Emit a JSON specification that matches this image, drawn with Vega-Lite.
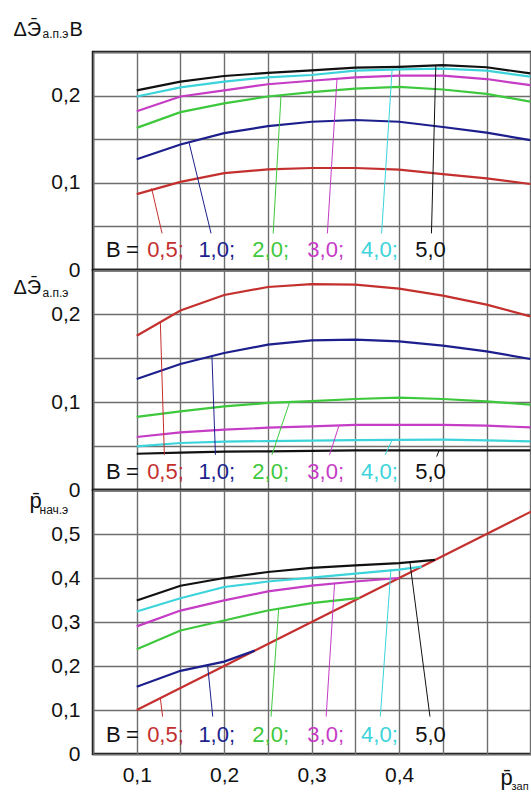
{
  "$schema": "https://vega.github.io/schema/vega-lite/v6.json",
  "autosize": {"type": "none"},
  "padding": {"left": 93, "top": 52, "right": 438, "bottom": 740},
  "background": "white",
  "config": {
    "view": {"stroke": "#111111", "strokeWidth": 2.5},
    "axis": {
      "labelFont": "Liberation Sans, Arial, sans-serif",
      "titleFont": "Liberation Sans, Arial, sans-serif",
      "labelColor": "#111111", "titleColor": "#111111",
      "gridColor": "#6e6e6e", "gridWidth": 1.4,
      "ticks": false, "domain": false,
      "labelFontSize": 21, "titleFontWeight": "normal",
      "labelOverlap": false, "labelBound": false, "labelFlush": false
    },
    "text": {"font": "Liberation Sans, Arial, sans-serif"}
  },
  "datasets": {
    "p1": [
      {"s":"0,5","x":0.1,"y":0.087},{"s":"0,5","x":0.15,"y":0.101},{"s":"0,5","x":0.2,"y":0.111},{"s":"0,5","x":0.25,"y":0.1155},{"s":"0,5","x":0.3,"y":0.117},{"s":"0,5","x":0.35,"y":0.117},{"s":"0,5","x":0.4,"y":0.115},{"s":"0,5","x":0.45,"y":0.110},{"s":"0,5","x":0.5,"y":0.105},{"s":"0,5","x":0.55,"y":0.0986},
      {"s":"1,0","x":0.1,"y":0.127},{"s":"1,0","x":0.15,"y":0.144},{"s":"1,0","x":0.2,"y":0.157},{"s":"1,0","x":0.25,"y":0.165},{"s":"1,0","x":0.3,"y":0.170},{"s":"1,0","x":0.35,"y":0.172},{"s":"1,0","x":0.4,"y":0.170},{"s":"1,0","x":0.45,"y":0.164},{"s":"1,0","x":0.5,"y":0.1575},{"s":"1,0","x":0.55,"y":0.149},
      {"s":"2,0","x":0.1,"y":0.163},{"s":"2,0","x":0.15,"y":0.181},{"s":"2,0","x":0.2,"y":0.191},{"s":"2,0","x":0.25,"y":0.199},{"s":"2,0","x":0.3,"y":0.204},{"s":"2,0","x":0.35,"y":0.208},{"s":"2,0","x":0.4,"y":0.210},{"s":"2,0","x":0.45,"y":0.207},{"s":"2,0","x":0.5,"y":0.202},{"s":"2,0","x":0.55,"y":0.193},
      {"s":"3,0","x":0.1,"y":0.182},{"s":"3,0","x":0.15,"y":0.199},{"s":"3,0","x":0.2,"y":0.206},{"s":"3,0","x":0.25,"y":0.213},{"s":"3,0","x":0.3,"y":0.217},{"s":"3,0","x":0.35,"y":0.221},{"s":"3,0","x":0.4,"y":0.223},{"s":"3,0","x":0.45,"y":0.223},{"s":"3,0","x":0.5,"y":0.219},{"s":"3,0","x":0.55,"y":0.212},
      {"s":"4,0","x":0.1,"y":0.199},{"s":"4,0","x":0.15,"y":0.2095},{"s":"4,0","x":0.2,"y":0.216},{"s":"4,0","x":0.25,"y":0.221},{"s":"4,0","x":0.3,"y":0.2236},{"s":"4,0","x":0.35,"y":0.2286},{"s":"4,0","x":0.4,"y":0.230},{"s":"4,0","x":0.45,"y":0.231},{"s":"4,0","x":0.5,"y":0.2286},{"s":"4,0","x":0.55,"y":0.2217},
      {"s":"5,0","x":0.1,"y":0.206},{"s":"5,0","x":0.15,"y":0.216},{"s":"5,0","x":0.2,"y":0.2225},{"s":"5,0","x":0.25,"y":0.226},{"s":"5,0","x":0.3,"y":0.229},{"s":"5,0","x":0.35,"y":0.232},{"s":"5,0","x":0.4,"y":0.233},{"s":"5,0","x":0.45,"y":0.235},{"s":"5,0","x":0.5,"y":0.2325},{"s":"5,0","x":0.55,"y":0.2255}
    ],
    "p2": [
      {"s":"0,5","x":0.1,"y":0.1753},{"s":"0,5","x":0.15,"y":0.204},{"s":"0,5","x":0.2,"y":0.2216},{"s":"0,5","x":0.25,"y":0.2307},{"s":"0,5","x":0.3,"y":0.234},{"s":"0,5","x":0.35,"y":0.2333},{"s":"0,5","x":0.4,"y":0.2288},{"s":"0,5","x":0.45,"y":0.2208},{"s":"0,5","x":0.5,"y":0.2106},{"s":"0,5","x":0.55,"y":0.1973},
      {"s":"1,0","x":0.1,"y":0.1261},{"s":"1,0","x":0.15,"y":0.1432},{"s":"1,0","x":0.2,"y":0.1557},{"s":"1,0","x":0.25,"y":0.1651},{"s":"1,0","x":0.3,"y":0.170},{"s":"1,0","x":0.35,"y":0.1708},{"s":"1,0","x":0.4,"y":0.1689},{"s":"1,0","x":0.45,"y":0.164},{"s":"1,0","x":0.5,"y":0.1575},{"s":"1,0","x":0.55,"y":0.1489},
      {"s":"2,0","x":0.1,"y":0.083},{"s":"2,0","x":0.15,"y":0.0893},{"s":"2,0","x":0.2,"y":0.095},{"s":"2,0","x":0.25,"y":0.0989},{"s":"2,0","x":0.3,"y":0.1011},{"s":"2,0","x":0.35,"y":0.1034},{"s":"2,0","x":0.4,"y":0.1049},{"s":"2,0","x":0.45,"y":0.1034},{"s":"2,0","x":0.5,"y":0.1007},{"s":"2,0","x":0.55,"y":0.097},
      {"s":"3,0","x":0.1,"y":0.0602},{"s":"3,0","x":0.15,"y":0.0655},{"s":"3,0","x":0.2,"y":0.0685},{"s":"3,0","x":0.25,"y":0.0708},{"s":"3,0","x":0.3,"y":0.0723},{"s":"3,0","x":0.35,"y":0.0739},{"s":"3,0","x":0.4,"y":0.074},{"s":"3,0","x":0.45,"y":0.0739},{"s":"3,0","x":0.5,"y":0.0731},{"s":"3,0","x":0.55,"y":0.0712},
      {"s":"4,0","x":0.1,"y":0.0496},{"s":"4,0","x":0.15,"y":0.0534},{"s":"4,0","x":0.2,"y":0.055},{"s":"4,0","x":0.25,"y":0.0556},{"s":"4,0","x":0.3,"y":0.056},{"s":"4,0","x":0.35,"y":0.0566},{"s":"4,0","x":0.4,"y":0.057},{"s":"4,0","x":0.45,"y":0.0572},{"s":"4,0","x":0.5,"y":0.0565},{"s":"4,0","x":0.55,"y":0.0553},
      {"s":"5,0","x":0.1,"y":0.0412},{"s":"5,0","x":0.15,"y":0.0425},{"s":"5,0","x":0.2,"y":0.0435},{"s":"5,0","x":0.25,"y":0.044},{"s":"5,0","x":0.3,"y":0.0445},{"s":"5,0","x":0.35,"y":0.045},{"s":"5,0","x":0.4,"y":0.045},{"s":"5,0","x":0.45,"y":0.045},{"s":"5,0","x":0.5,"y":0.045},{"s":"5,0","x":0.55,"y":0.045}
    ],
    "p3": [
      {"s":"0,5","x":0.1,"y":0.1},{"s":"0,5","x":0.6,"y":0.6},
      {"s":"1,0","x":0.1,"y":0.153},{"s":"1,0","x":0.15,"y":0.189},{"s":"1,0","x":0.2,"y":0.21},{"s":"1,0","x":0.235,"y":0.235},
      {"s":"2,0","x":0.1,"y":0.238},{"s":"2,0","x":0.15,"y":0.2806},{"s":"2,0","x":0.2,"y":0.3034},{"s":"2,0","x":0.25,"y":0.3262},{"s":"2,0","x":0.3,"y":0.343},{"s":"2,0","x":0.355,"y":0.355},
      {"s":"3,0","x":0.1,"y":0.29},{"s":"3,0","x":0.15,"y":0.326},{"s":"3,0","x":0.2,"y":0.349},{"s":"3,0","x":0.25,"y":0.3695},{"s":"3,0","x":0.3,"y":0.3825},{"s":"3,0","x":0.35,"y":0.392},{"s":"3,0","x":0.4,"y":0.4},
      {"s":"4,0","x":0.1,"y":0.324},{"s":"4,0","x":0.15,"y":0.354},{"s":"4,0","x":0.2,"y":0.3795},{"s":"4,0","x":0.25,"y":0.392},{"s":"4,0","x":0.3,"y":0.401},{"s":"4,0","x":0.35,"y":0.41},{"s":"4,0","x":0.4,"y":0.419},{"s":"4,0","x":0.426,"y":0.426},
      {"s":"5,0","x":0.1,"y":0.349},{"s":"5,0","x":0.15,"y":0.3825},{"s":"5,0","x":0.2,"y":0.4},{"s":"5,0","x":0.25,"y":0.4137},{"s":"5,0","x":0.3,"y":0.4228},{"s":"5,0","x":0.35,"y":0.4288},{"s":"5,0","x":0.4,"y":0.434},{"s":"5,0","x":0.441,"y":0.441}
    ],
    "l1": [
      {"s":"0,5","x":0.117,"y":0.0937,"x2":0.129,"y2":0.042},
      {"s":"1,0","x":0.16,"y":0.1455,"x2":0.185,"y2":0.042},
      {"s":"2,0","x":0.265,"y":0.2005,"x2":0.256,"y2":0.042},
      {"s":"3,0","x":0.329,"y":0.219,"x2":0.318,"y2":0.042},
      {"s":"4,0","x":0.392,"y":0.2298,"x2":0.380,"y2":0.042},
      {"s":"5,0","x":0.442,"y":0.2347,"x2":0.437,"y2":0.042}
    ],
    "l2": [
      {"s":"0,5","x":0.127,"y":0.1908,"x2":0.1316,"y2":0.040},
      {"s":"1,0","x":0.186,"y":0.1522,"x2":0.19,"y2":0.040},
      {"s":"2,0","x":0.2748,"y":0.1,"x2":0.2546,"y2":0.040},
      {"s":"3,0","x":0.3313,"y":0.0733,"x2":0.3205,"y2":0.040},
      {"s":"4,0","x":0.392,"y":0.0568,"x2":0.384,"y2":0.040},
      {"s":"5,0","x":0.446,"y":0.0455,"x2":0.443,"y2":0.038}
    ],
    "l3": [
      {"s":"0,5","x":0.127,"y":0.127,"x2":0.1296,"y2":0.085},
      {"s":"1,0","x":0.181,"y":0.203,"x2":0.1869,"y2":0.085},
      {"s":"2,0","x":0.2623,"y":0.330,"x2":0.2536,"y2":0.085},
      {"s":"3,0","x":0.3262,"y":0.387,"x2":0.3166,"y2":0.085},
      {"s":"4,0","x":0.3907,"y":0.4205,"x2":0.3785,"y2":0.085},
      {"s":"5,0","x":0.4124,"y":0.4356,"x2":0.4353,"y2":0.085}
    ],
    "t1": [
      {"t":"B","s":"B","x":0.065,"y":0.0146},{"t":"=","s":"B","x":0.0878,"y":0.0146},
      {"t":"0,5;","s":"0,5","x":0.1119,"y":0.0146},{"t":"1,0;","s":"1,0","x":0.1705,"y":0.0146},
      {"t":"2,0;","s":"2,0","x":0.2322,"y":0.0146},{"t":"3,0;","s":"3,0","x":0.2951,"y":0.0146},
      {"t":"4,0;","s":"4,0","x":0.3565,"y":0.0146},{"t":"5,0","s":"5,0","x":0.4185,"y":0.0146}
    ],
    "t2": [
      {"t":"B","s":"B","x":0.065,"y":0.0125},{"t":"=","s":"B","x":0.0878,"y":0.0125},
      {"t":"0,5;","s":"0,5","x":0.1119,"y":0.0125},{"t":"1,0;","s":"1,0","x":0.1705,"y":0.0125},
      {"t":"2,0;","s":"2,0","x":0.2322,"y":0.0125},{"t":"3,0;","s":"3,0","x":0.2951,"y":0.0125},
      {"t":"4,0;","s":"4,0","x":0.3565,"y":0.0125},{"t":"5,0","s":"5,0","x":0.4185,"y":0.0125}
    ],
    "t3": [
      {"t":"B","s":"B","x":0.065,"y":0.028},{"t":"=","s":"B","x":0.0878,"y":0.028},
      {"t":"0,5;","s":"0,5","x":0.1119,"y":0.028},{"t":"1,0;","s":"1,0","x":0.1705,"y":0.028},
      {"t":"2,0;","s":"2,0","x":0.2322,"y":0.028},{"t":"3,0;","s":"3,0","x":0.2951,"y":0.028},
      {"t":"4,0;","s":"4,0","x":0.3565,"y":0.028},{"t":"5,0","s":"5,0","x":0.4185,"y":0.028}
    ]
  },
  "vconcat": [
    {
      "width": 481, "height": 218,
      "resolve": {"axis": {"x": "independent", "y": "independent"}},
      "layer": [
        {
          "mark": {"type": "rect", "color": "white"},
          "encoding": {
            "x": {"datum": 0.05, "type": "quantitative", "scale": {"domain": [0.05, 0.6], "nice": false, "zero": false},
                  "axis": {"orient": "top", "values": [0.05,0.1,0.15,0.2,0.25,0.3,0.35,0.4,0.45,0.5,0.55,0.6], "grid": true, "labels": false,
                           "title": "а.п.э", "titleX": -51, "titleY": -14.5, "titleAlign": "left", "titleBaseline": "alphabetic", "titleAngle": 0, "titleFontSize": 12}},
            "x2": {"datum": 0.6},
            "y": {"datum": 0.008, "type": "quantitative", "scale": {"domain": [0, 0.25], "nice": false, "zero": false},
                  "axis": {"values": [0,0.05,0.1,0.15,0.2,0.25], "grid": true, "labelPadding": 13, "labelBaseline": "middle",
                           "labelExpr": "datum.value == 0 ? '0' : ((datum.value == 0.1 || datum.value == 0.2) ? replace(format(datum.value, '.1f'), '.', ',') + '\u2004' : '')",
                           "title": "\u0394\u042d\u0304", "titleX": -80, "titleY": -17, "titleAlign": "left", "titleBaseline": "alphabetic", "titleAngle": 0, "titleFontSize": 20}},
            "y2": {"datum": 0.042}
          }
        },
        {
          "data": {"name": "p1"},
          "mark": {"type": "line", "strokeWidth": 2.2},
          "encoding": {
            "x": {"field": "x", "type": "quantitative", "axis": null},
            "y": {"field": "y", "type": "quantitative", "axis": null},
            "color": {"field": "s", "type": "nominal", "legend": null,
                      "scale": {"domain": ["0,5","1,0","2,0","3,0","4,0","5,0","B"], "range": ["#c3302e","#1c1f8c","#3ec83e","#c53cc5","#3cd4da","#111111","#111111"]}}
          }
        },
        {
          "data": {"name": "l1"},
          "mark": {"type": "rule", "strokeWidth": 1},
          "encoding": {
            "x": {"field": "x", "type": "quantitative", "axis": null},
            "x2": {"field": "x2"},
            "y": {"field": "y", "type": "quantitative",
                  "axis": {"orient": "right", "grid": false, "labels": false, "title": "B", "titleX": -505, "titleY": -17, "titleAlign": "left", "titleBaseline": "alphabetic", "titleAngle": 0, "titleFontSize": 20}},
            "y2": {"field": "y2"},
            "color": {"field": "s", "type": "nominal", "legend": null}
          }
        },
        {
          "data": {"name": "t1"},
          "mark": {"type": "text", "align": "left", "baseline": "alphabetic", "fontSize": 22},
          "encoding": {
            "x": {"field": "x", "type": "quantitative", "axis": null},
            "y": {"field": "y", "type": "quantitative", "axis": null},
            "text": {"field": "t"},
            "color": {"field": "s", "type": "nominal", "legend": null}
          }
        }
      ]
    },
    {
      "width": 481, "height": 220,
      "resolve": {"axis": {"x": "independent", "y": "independent"}},
      "layer": [
        {
          "mark": {"type": "rect", "color": "white"},
          "encoding": {
            "x": {"datum": 0.05, "type": "quantitative", "scale": {"domain": [0.05, 0.6], "nice": false, "zero": false},
                  "axis": {"orient": "top", "values": [0.05,0.1,0.15,0.2,0.25,0.3,0.35,0.4,0.45,0.5,0.55,0.6], "grid": true, "labels": false,
                           "title": "а.п.э", "titleX": -51, "titleY": 26, "titleAlign": "left", "titleBaseline": "alphabetic", "titleAngle": 0, "titleFontSize": 12}},
            "x2": {"datum": 0.6},
            "y": {"datum": 0.0083, "type": "quantitative", "scale": {"domain": [0, 0.25], "nice": false, "zero": false},
                  "axis": {"values": [0,0.05,0.1,0.15,0.2,0.25], "grid": true, "labelPadding": 13, "labelBaseline": "middle",
                           "labelExpr": "datum.value == 0 ? '0' : ((datum.value == 0.1 || datum.value == 0.2) ? replace(format(datum.value, '.1f'), '.', ',') + '\u2004' : '')",
                           "title": "\u0394\u042d\u0304", "titleX": -80, "titleY": 23, "titleAlign": "left", "titleBaseline": "alphabetic", "titleAngle": 0, "titleFontSize": 20}},
            "y2": {"datum": 0.038}
          }
        },
        {
          "data": {"name": "p2"},
          "mark": {"type": "line", "strokeWidth": 2.2},
          "encoding": {
            "x": {"field": "x", "type": "quantitative", "axis": null},
            "y": {"field": "y", "type": "quantitative", "axis": null},
            "color": {"field": "s", "type": "nominal", "legend": null,
                      "scale": {"domain": ["0,5","1,0","2,0","3,0","4,0","5,0","B"], "range": ["#c3302e","#1c1f8c","#3ec83e","#c53cc5","#3cd4da","#111111","#111111"]}}
          }
        },
        {
          "data": {"name": "l2"},
          "mark": {"type": "rule", "strokeWidth": 1},
          "encoding": {
            "x": {"field": "x", "type": "quantitative", "axis": null},
            "x2": {"field": "x2"},
            "y": {"field": "y", "type": "quantitative", "axis": null},
            "y2": {"field": "y2"},
            "color": {"field": "s", "type": "nominal", "legend": null}
          }
        },
        {
          "data": {"name": "t2"},
          "mark": {"type": "text", "align": "left", "baseline": "alphabetic", "fontSize": 22},
          "encoding": {
            "x": {"field": "x", "type": "quantitative", "axis": null},
            "y": {"field": "y", "type": "quantitative", "axis": null},
            "text": {"field": "t"},
            "color": {"field": "s", "type": "nominal", "legend": null}
          }
        }
      ]
    },
    {
      "width": 481, "height": 264,
      "resolve": {"axis": {"x": "independent", "y": "independent"}},
      "layer": [
        {
          "mark": {"type": "rect", "color": "white"},
          "encoding": {
            "x": {"datum": 0.05, "type": "quantitative", "scale": {"domain": [0.05, 0.6], "nice": false, "zero": false},
                  "axis": {"orient": "bottom", "values": [0.05,0.1,0.15,0.2,0.25,0.3,0.35,0.4,0.45,0.5,0.55,0.6], "grid": true, "labelPadding": 10,
                           "labelExpr": "(datum.value == 0.1 || datum.value == 0.2 || datum.value == 0.3 || datum.value == 0.4) ? replace(format(datum.value, '.1f'), '.', ',') : ''",
                           "title": "p\u0304", "titleX": 407, "titleY": 30, "titleAlign": "left", "titleBaseline": "alphabetic", "titleAngle": 0, "titleFontSize": 22}},
            "x2": {"datum": 0.6},
            "y": {"datum": 0.016, "type": "quantitative", "scale": {"domain": [0, 0.6], "nice": false, "zero": false},
                  "axis": {"values": [0,0.1,0.2,0.3,0.4,0.5,0.6], "grid": true, "labelPadding": 13, "labelBaseline": "middle",
                           "labelExpr": "datum.value == 0 ? '0' : (datum.value < 0.55 ? replace(format(datum.value, '.1f'), '.', ',') + '\u2004' : '')",
                           "title": "p\u0304", "titleX": -64, "titleY": 17, "titleAlign": "left", "titleBaseline": "alphabetic", "titleAngle": 0, "titleFontSize": 22}},
            "y2": {"datum": 0.083}
          }
        },
        {
          "data": {"name": "p3"},
          "mark": {"type": "line", "strokeWidth": 2.2},
          "encoding": {
            "x": {"field": "x", "type": "quantitative", "axis": null},
            "y": {"field": "y", "type": "quantitative", "axis": null},
            "color": {"field": "s", "type": "nominal", "legend": null,
                      "scale": {"domain": ["0,5","1,0","2,0","3,0","4,0","5,0","B"], "range": ["#c3302e","#1c1f8c","#3ec83e","#c53cc5","#3cd4da","#111111","#111111"]}}
          }
        },
        {
          "data": {"name": "l3"},
          "mark": {"type": "rule", "strokeWidth": 1},
          "encoding": {
            "x": {"field": "x", "type": "quantitative",
                  "axis": {"orient": "top", "grid": false, "labels": false, "title": "зап", "titleX": 418, "titleY": 299, "titleAlign": "left", "titleBaseline": "alphabetic", "titleAngle": 0, "titleFontSize": 11}},
            "x2": {"field": "x2"},
            "y": {"field": "y", "type": "quantitative",
                  "axis": {"orient": "right", "grid": false, "labels": false, "title": "нач.э", "titleX": -535, "titleY": 23, "titleAlign": "left", "titleBaseline": "alphabetic", "titleAngle": 0, "titleFontSize": 12}},
            "y2": {"field": "y2"},
            "color": {"field": "s", "type": "nominal", "legend": null}
          }
        },
        {
          "data": {"name": "t3"},
          "mark": {"type": "text", "align": "left", "baseline": "alphabetic", "fontSize": 22},
          "encoding": {
            "x": {"field": "x", "type": "quantitative", "axis": null},
            "y": {"field": "y", "type": "quantitative", "axis": null},
            "text": {"field": "t"},
            "color": {"field": "s", "type": "nominal", "legend": null}
          }
        }
      ]
    }
  ],
  "spacing": 0,
  "bounds": "flush"
}
